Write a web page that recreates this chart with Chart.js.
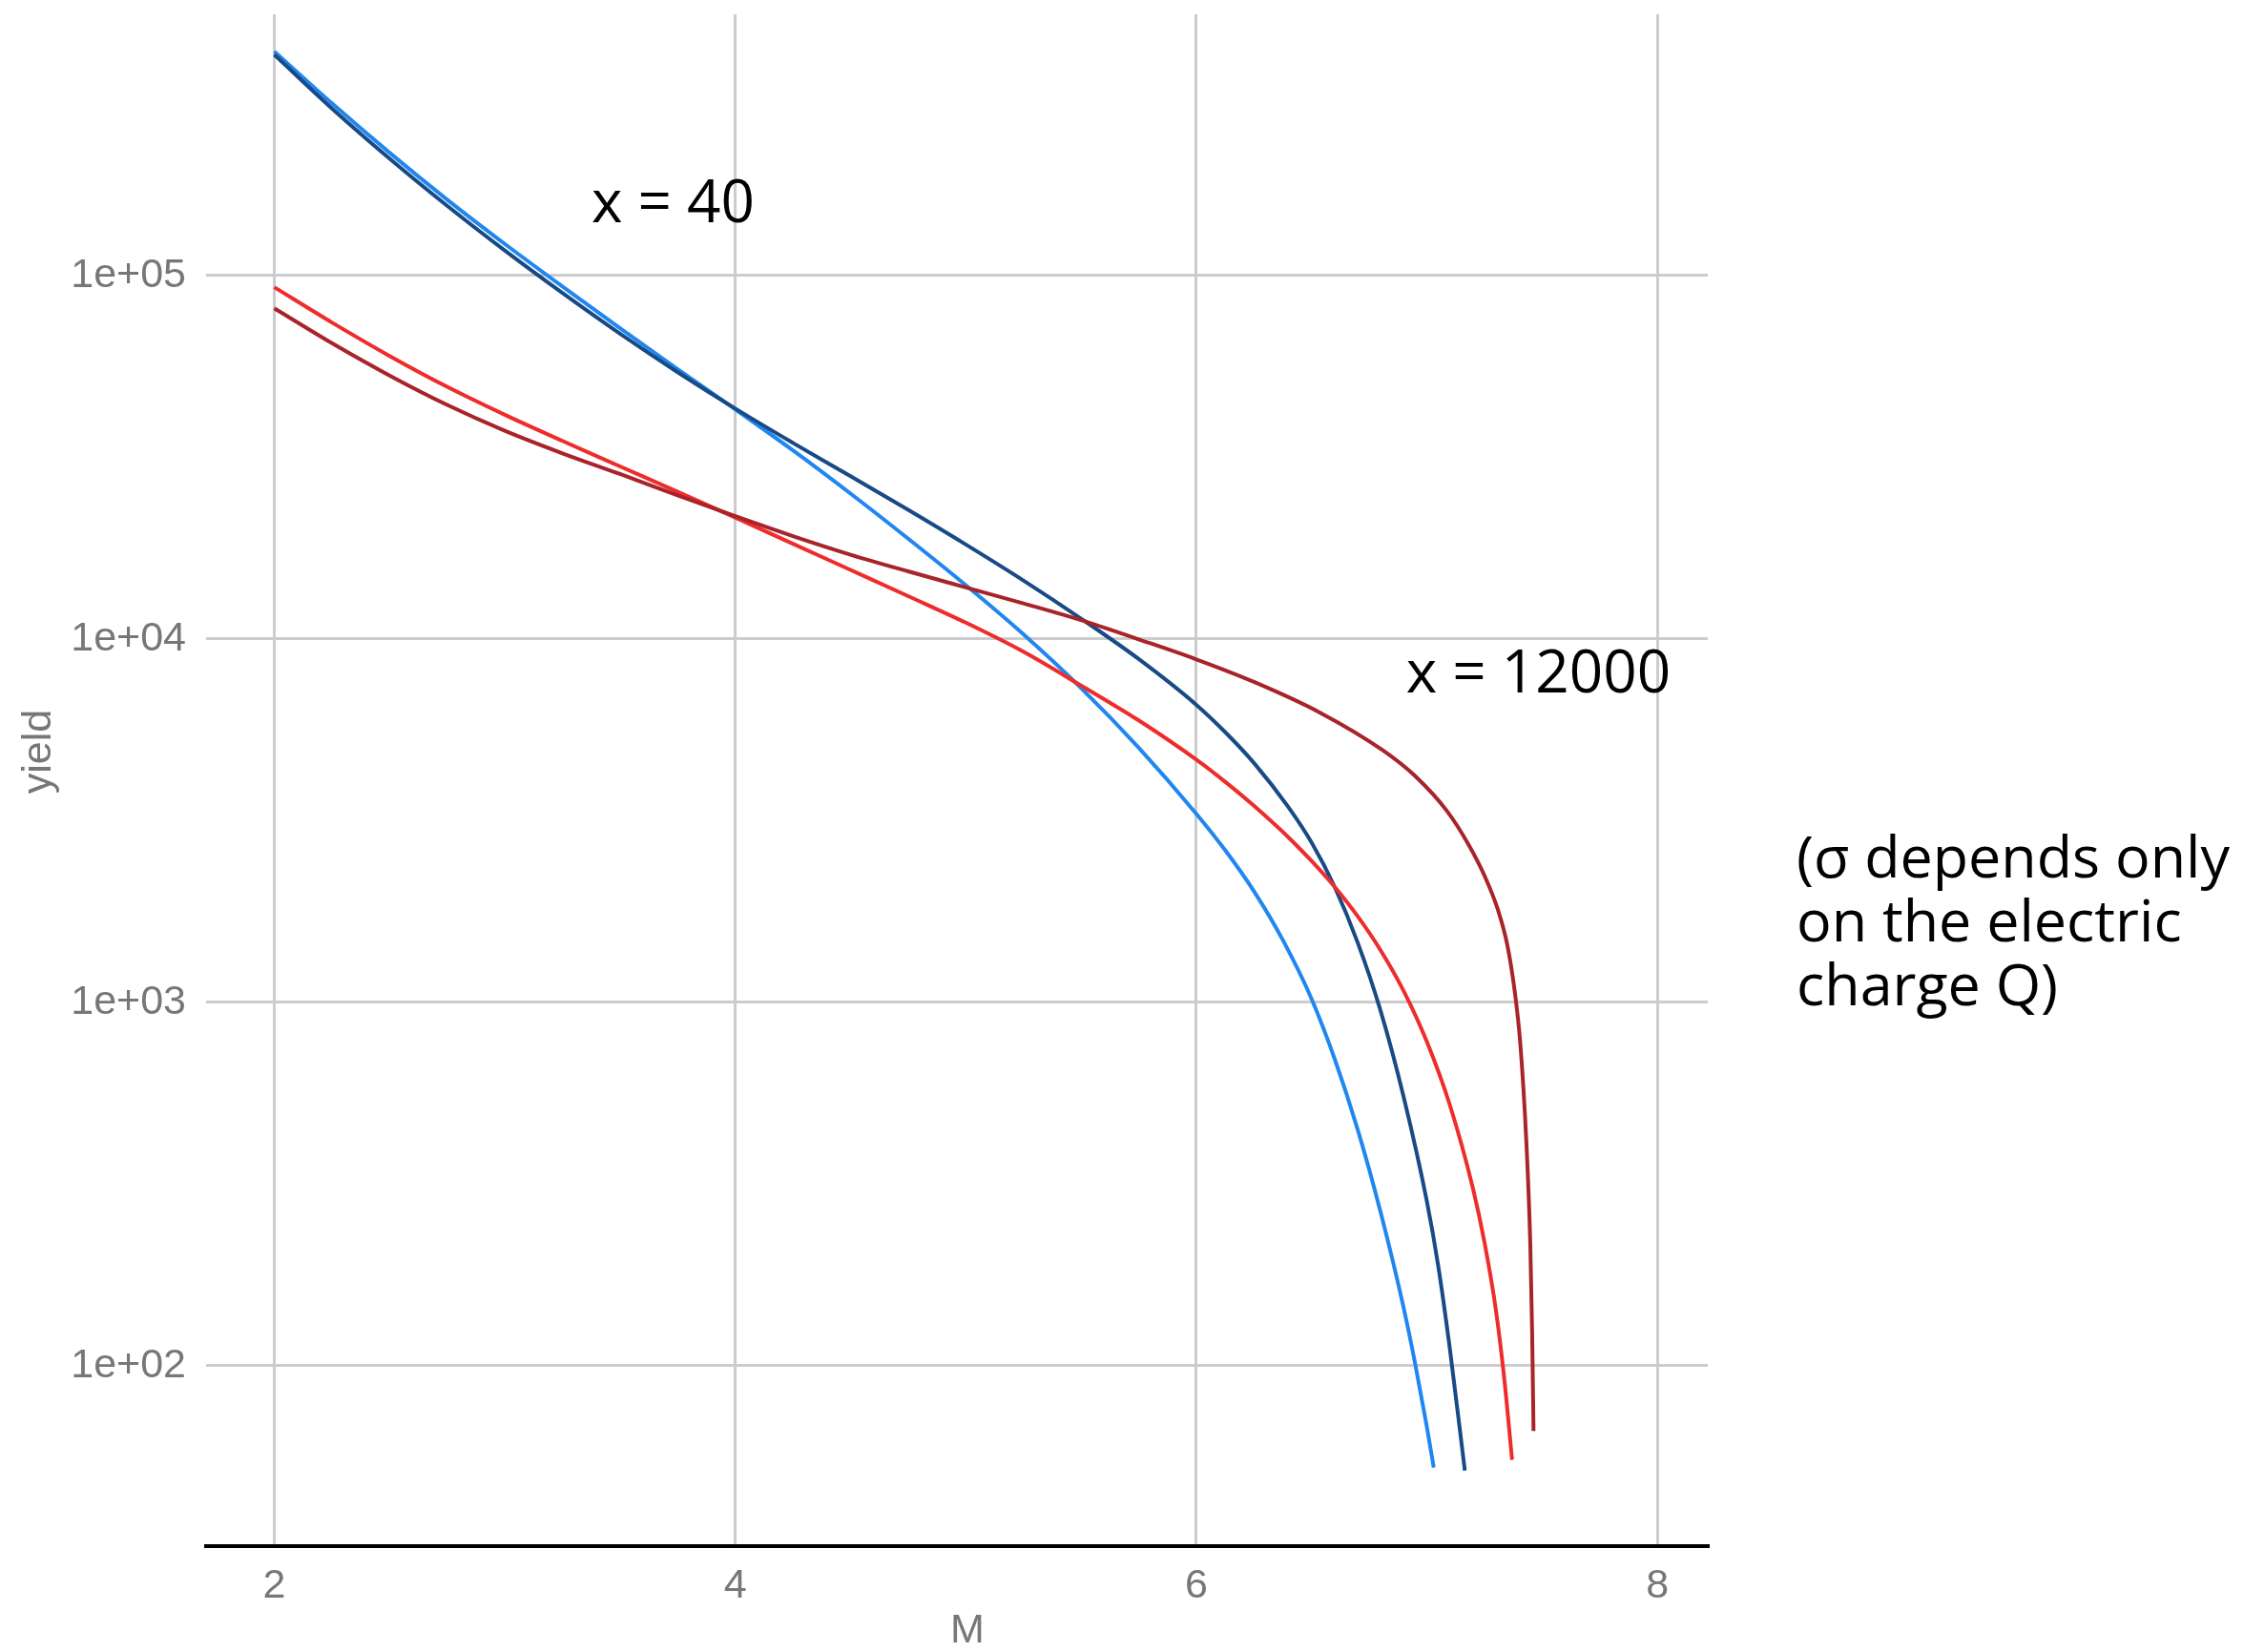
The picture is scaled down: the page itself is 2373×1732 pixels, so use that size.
<!DOCTYPE html>
<html>
<head>
<meta charset="utf-8">
<script src="https://cdn.jsdelivr.net/npm/chart.js@4.4.1/dist/chart.umd.min.js"></script>
<style>
html, body { margin: 0; padding: 0; background: #fff; }
body { width: 2373px; height: 1732px; position: relative; overflow: hidden; }
#chart { position: absolute; left: 0; top: 0; }
#note {
    position: absolute; left: 1883px; top: 863px;
    font-family: "Open Sans", sans-serif; font-size: 61px; line-height: 67px; color: #000;
}
</style>
</head>
<body>
<canvas id="chart" width="1800" height="1732"></canvas>
<div id="note">(σ depends only<br>on the electric<br>charge Q)</div>
<script>
const xTicks = [2, 4, 6, 8];
const yTicks = [100, 1000, 10000, 100000];

// light blue curve (M, yield)
const mLightBlue = [2.0, 2.25, 2.5, 2.75, 3.0, 3.25, 3.5, 3.75, 4.0, 4.25, 4.5, 4.75, 5.0, 5.25, 5.5, 5.75, 6.0, 6.125, 6.25, 6.375, 6.5, 6.6, 6.7, 6.8, 6.9, 6.95, 7.0, 7.03];
const yieldLightBlue = [414000, 297900, 217800, 161800, 122200, 93300, 71610, 55210, 42850, 33040, 25120, 18880, 14060, 10300, 7328, 5023, 3304, 2624, 2023, 1486, 1023, 700, 447, 264, 144, 101, 68.1, 52.5];

// dark blue curve
const mDarkBlue = [2.0, 2.25, 2.5, 2.75, 3.0, 3.25, 3.5, 3.75, 4.0, 4.25, 4.5, 4.75, 5.0, 5.25, 5.5, 5.75, 6.0, 6.125, 6.25, 6.4, 6.5, 6.6, 6.7, 6.8, 6.9, 7.0, 7.05, 7.1, 7.165];
const yieldDarkBlue = [405500, 288400, 209900, 155600, 117200, 89540, 69180, 54200, 43050, 34640, 28050, 22670, 18200, 14490, 11380, 8810, 6592, 5546, 4560, 3443, 2754, 2080, 1462, 946, 548, 284, 187.5, 111.4, 51.5];

// red curve
const mRed = [2.0, 2.25, 2.5, 2.75, 3.0, 3.25, 3.5, 3.75, 4.0, 4.25, 4.5, 4.75, 5.0, 5.25, 5.5, 5.75, 6.0, 6.125, 6.25, 6.4, 6.5, 6.6, 6.7, 6.8, 6.9, 7.0, 7.1, 7.2, 7.25, 7.3, 7.336, 7.37];
const yieldRed = [92900, 74300, 60120, 49430, 41400, 35080, 29850, 25410, 21580, 18280, 15490, 13120, 11090, 9226, 7447, 5970, 4656, 4046, 3475, 2844, 2449, 2080, 1726, 1390, 1074, 780, 522, 308, 219, 142, 92.3, 55.1];

// dark red curve
const mDarkRed = [2.0, 2.25, 2.5, 2.75, 3.0, 3.25, 3.5, 3.75, 4.0, 4.25, 4.5, 4.75, 5.0, 5.25, 5.5, 5.75, 6.0, 6.25, 6.535, 6.811, 6.949, 7.087, 7.184, 7.253, 7.308, 7.349, 7.383, 7.406, 7.432, 7.449, 7.457, 7.463];
const yieldDarkRed = [81280, 65160, 53090, 44060, 37410, 32430, 28440, 24830, 21780, 19190, 17060, 15350, 13870, 12530, 11270, 9977, 8790, 7621, 6281, 4932, 4198, 3365, 2698, 2213, 1803, 1442, 1054, 766, 412, 216, 124, 66.2];

const curveLabels = [
    { text: "x = 40", m: 3.376, yield: 156000 },
    { text: "x = 12000", m: 6.91, yield: 7940 }
];

function toPoints(ms, ys) {
    return ms.map((m, i) => ({ x: m, y: ys[i] }));
}

function line(data, color) {
    return {
        data: data,
        showLine: true,
        borderColor: color,
        borderWidth: 4,
        pointRadius: 0,
        fill: false,
        cubicInterpolationMode: "monotone"
    };
}

const gray = "#777777";
const tickFont = { family: "Liberation Sans", size: 43 };

// curve labels and axis titles
const labelPlugin = {
    id: "curveLabels",
    afterDatasetsDraw(chart) {
        const { ctx, scales, chartArea } = chart;
        ctx.save();
        ctx.font = '62px "Open Sans"';
        ctx.fillStyle = "#000";
        ctx.textBaseline = "middle";
        curveLabels.forEach(l => {
            ctx.fillText(l.text, scales.x.getPixelForValue(l.m), scales.y.getPixelForValue(l.yield));
        });
        ctx.font = '43px "Liberation Sans"';
        ctx.fillStyle = gray;
        ctx.textAlign = "center";
        ctx.fillText("M", (chartArea.left + chartArea.right) / 2 + 11, chartArea.bottom + 89);
        ctx.translate(41, (chartArea.top + chartArea.bottom) / 2 - 30);
        ctx.rotate(-Math.PI / 2);
        ctx.fillText("yield", 0, 0);
        ctx.restore();
    }
};

new Chart(document.getElementById("chart"), {
    type: "scatter",
    data: {
        datasets: [
            line(toPoints(mDarkRed, yieldDarkRed), "#a8232a"),
            line(toPoints(mRed, yieldRed), "#ee2c2c"),
            line(toPoints(mDarkBlue, yieldDarkBlue), "#184a86"),
            line(toPoints(mLightBlue, yieldLightBlue), "#1f87ef")
        ]
    },
    options: {
        responsive: false,
        animation: false,
        devicePixelRatio: 1,
        layout: { padding: { top: 15, right: 10, left: 0, bottom: 0 } },
        plugins: {
            legend: { display: false },
            tooltip: { enabled: false }
        },
        scales: {
            x: {
                type: "linear",
                min: 1.704,
                max: 8.219,
                afterBuildTicks: s => { s.ticks = xTicks.map(v => ({ value: v })); },
                afterFit: s => { s.height = 111; s.paddingLeft = 0; s.paddingRight = 0; },
                grid: { color: "#cccccc", lineWidth: 3, drawTicks: false },
                border: { display: true, color: "#000", width: 4 },
                ticks: { color: gray, font: tickFont, padding: 16 }
            },
            y: {
                type: "logarithmic",
                min: 31.9,
                max: 523600,
                afterBuildTicks: s => { s.ticks = yTicks.map(v => ({ value: v })); },
                afterFit: s => { s.width = 216; s.paddingTop = 0; s.paddingBottom = 0; },
                grid: { color: "#cccccc", lineWidth: 3, drawTicks: false },
                border: { display: false },
                ticks: {
                    color: gray,
                    font: tickFont,
                    padding: 21,
                    callback: v => "1e+" + String(Math.round(Math.log10(v))).padStart(2, "0")
                }
            }
        }
    },
    plugins: [labelPlugin]
});
</script>
</body>
</html>
